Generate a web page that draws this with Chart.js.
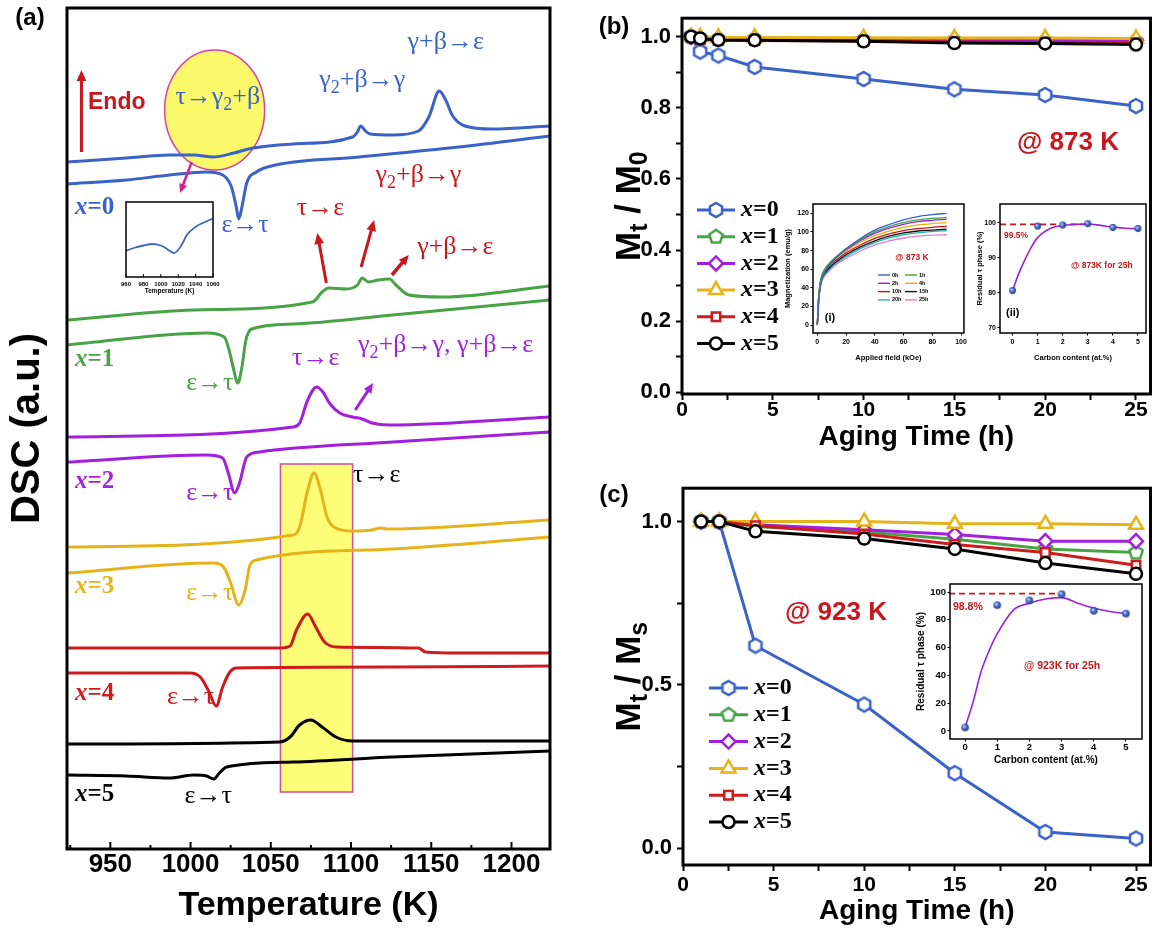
<!DOCTYPE html>
<html>
<head>
<meta charset="utf-8">
<script src="https://cdn.jsdelivr.net/npm/chart.js@4.4.1/dist/chart.umd.min.js"></script>
<style>
  body { margin: 0; background: #fff; }
  #page { position: relative; width: 1161px; height: 928px; overflow: hidden; background: #fff; }
  canvas { position: absolute; }
</style>
</head>
<body>
<div id="page">
  <canvas id="dsc" width="560" height="928" style="left:0;top:0"></canvas>
  <canvas id="dscInset" width="130" height="105" style="left:96px;top:195px"></canvas>
  <canvas id="aging873" width="601" height="460" style="left:560px;top:0"></canvas>
  <canvas id="mh" width="195" height="175" style="left:775px;top:195px"></canvas>
  <canvas id="res873" width="185" height="175" style="left:970px;top:195px"></canvas>
  <canvas id="aging923" width="601" height="458" style="left:560px;top:470px"></canvas>
  <canvas id="res923" width="250" height="200" style="left:900px;top:575px"></canvas>
</div>
<script>
// ---- (a) DSC curves, [temperature K, signal a.u.] ----
const dscX0Heat = [[923,687],[960,691],[987,694],[1002,694],[1014,692],[1027,696],[1039,701],[1064,705],[1101,712],[1104,717],[1106,723],[1109,718],[1112,715],[1126,714],[1142,718],[1148.5,732],[1155,758],[1159,749],[1163,734],[1171,723],[1188,720],[1224,723]];
const dscX0Cool = [[923,665],[960,669],[987,674],[1010,677],[1020,674],[1025.5,662],[1028.5,642],[1030,630],[1032,642],[1035,666],[1041,677],[1053,684],[1105,692],[1167,702],[1224,713]];
const dscX1Heat = [[923,529],[1002,539],[1076,547],[1082,557],[1086,561],[1097,560],[1104,564],[1107,571],[1111,567],[1117,569],[1124,570],[1128,564],[1136,554],[1157,552],[1224,563]];
const dscX1Cool = [[923,504],[1010,516],[1021,512],[1024,499],[1026.5,482],[1029.5,466],[1032,482],[1034.5,509],[1038,520],[1064,525],[1126,534],[1224,549]];
const dscX2Heat = [[923,412],[1064,422],[1068,426],[1073,449],[1078.5,462],[1082.5,457],[1086.5,446],[1093,436],[1101,432],[1107,430],[1113,426],[1124,424],[1224,432]];
const dscX2Cool = [[923,387],[1010,394],[1020,391],[1023.5,376],[1027.5,356],[1030.5,366],[1035,392],[1043,397],[1126,407],[1224,417]];
const dscX3Heat = [[923,302],[1064,314],[1068,322],[1073,359],[1077,376],[1081,359],[1085,332],[1090.5,321],[1101,318],[1113,319],[1118.5,321],[1122.5,320],[1224,329]];
const dscX3Cool = [[923,276],[1014,286],[1021,281],[1025,266],[1030,244],[1034,259],[1037,284],[1041,289],[1126,300],[1224,312]];
const dscX4Heat = [[923,201],[1055.5,201],[1062,203],[1066,219],[1073,235],[1078,222],[1083.5,207],[1091,202],[1142,201],[1146.5,197],[1167,196],[1224,196]];
const dscX4Cool = [[923,176],[999.5,176],[1006,172],[1011,159],[1016,143],[1020,162],[1024.5,177],[1028.5,181],[1126,182],[1224,183]];
const dscX5Heat = [[923,105],[1055.5,107],[1062,112],[1068,124],[1075,129],[1082,122],[1090.5,112],[1101,108],[1224,108]];
const dscX5Cool = [[923,74],[960,73],[987,71],[1002,74],[1010,73],[1014.5,70],[1018,76],[1022.5,82],[1064,87],[1126,92],[1224,98]];

// small inset of panel (a)
const insetT = [960, 970, 980, 990, 1000, 1005, 1010, 1015, 1020, 1025, 1030, 1040, 1050, 1060];
const insetDSC = [0.35, 0.39, 0.42, 0.44, 0.42, 0.39, 0.35, 0.32, 0.36, 0.45, 0.56, 0.67, 0.73, 0.78];

// ---- (b) aging at 873 K ----
const timeB = [0.5, 1, 2, 4, 10, 15, 20, 25];
const ratioB_x0 = [1.0, 0.958, 0.947, 0.915, 0.881, 0.852, 0.836, 0.805];
const ratioB_x1 = [1.0, 0.995, 0.993, 0.993, 0.991, 0.989, 0.988, 0.987];
const ratioB_x2 = [1.0, 0.996, 0.995, 0.995, 0.993, 0.991, 0.990, 0.989];
const ratioB_x3 = [1.0, 0.999, 0.998, 0.998, 0.997, 0.996, 0.996, 0.995];
const ratioB_x4 = [1.0, 0.993, 0.990, 0.989, 0.988, 0.985, 0.984, 0.982];
const ratioB_x5 = [1.0, 0.995, 0.991, 0.990, 0.987, 0.982, 0.981, 0.978];

// (b)(i) magnetization curves
const fieldKOe = [0, 0.5, 1, 2, 3, 5, 7.5, 10, 15, 20, 30, 40, 50, 60, 70, 80, 90];
const mag0h  = [0, 12, 25, 40, 48, 56, 62, 67, 75, 82, 93, 102, 108, 113, 116.5, 118.5, 120];
const mag1h  = [0, 18, 32, 46, 53, 60, 65, 69, 76, 82, 92, 100, 106, 110, 113, 114.5, 115.5];
const mag2h  = [0, 16, 30, 44, 51, 58, 63.5, 68, 75, 81, 91, 98.5, 104, 108, 111, 112.5, 113.5];
const mag4h  = [0, 17, 31, 45, 52, 58.5, 63.5, 67.5, 74, 79.5, 89, 96, 101, 105, 107.5, 109, 110];
const mag10h = [0, 17, 31, 44, 51, 57, 62, 66, 72, 77.5, 86, 93, 98, 101.5, 103.5, 105, 106];
const mag15h = [0, 16, 30, 43, 49.5, 55.5, 60, 64, 70, 75.5, 84, 90.5, 95.5, 99, 101, 102, 103];
const mag20h = [0, 14, 28, 41, 48, 54, 58.5, 62.5, 68.5, 73.5, 82, 88.5, 93.5, 97, 99, 100.5, 101.5];
const mag25h = [0, 13, 27, 40, 46.5, 52.5, 57, 61, 67, 71.5, 79.5, 86, 90.5, 93.5, 95.5, 96.5, 97];
const magLabels = ['0h', '1h', '2h', '4h', '10h', '15h', '20h', '25h'];

// residual tau phase vs carbon content
const carbon = [0, 1, 2, 3, 4, 5];
const resid873 = [80.6, 99.0, 99.3, 99.7, 98.6, 98.3];
const resid923 = [2.5, 90.5, 94.0, 98.5, 86.5, 84.5];
const fitCarbon = [0, 0.25, 0.5, 0.75, 1, 1.5, 2, 2.5, 3, 3.5, 4, 4.5, 5];
const fit873 = [80.6, 85.5, 89.5, 93, 95.7, 98.3, 99.2, 99.5, 99.6, 99.2, 98.7, 98.4, 98.2];
const fit923 = [2.5, 21, 43, 58, 70, 87, 92, 95, 96, 92, 88.5, 86, 84.5];
const level873 = 99.5;
const level923 = 98.8;
const levelCarbon = [-0.5, 3];

// ---- (c) aging at 923 K ----
const timeC = [1, 2, 4, 10, 15, 20, 25];
const ratioC_x0 = [1.0, 1.0, 0.62, 0.44, 0.23, 0.05, 0.03];
const ratioC_x1 = [1.0, 1.0, 0.985, 0.968, 0.946, 0.916, 0.905];
const ratioC_x2 = [1.0, 1.0, 0.99, 0.975, 0.96, 0.94, 0.94];
const ratioC_x3 = [1.0, 1.0, 1.0, 1.0, 0.993, 0.993, 0.99];
const ratioC_x4 = [1.0, 1.0, 0.987, 0.962, 0.93, 0.905, 0.866];
const ratioC_x5 = [1.0, 1.0, 0.97, 0.948, 0.916, 0.873, 0.84];

const seriesNames = ['x=0', 'x=1', 'x=2', 'x=3', 'x=4', 'x=5'];

// ---- styles ----
const COL = ['#3b62c8', '#47a345', '#a21fdc', '#e6b31a', '#cd1b1e', '#000000'];
const MAG_COL = ['#3b62c8', '#3fa343', '#9a22e0', '#e8b000', '#c81414', '#111111', '#22b3b0', '#e27ad6'];
const RED = '#c8171d';
const SANS = 'Arial, "Liberation Sans", sans-serif';
const SERIF = '"Liberation Serif", "Times New Roman", serif';

Chart.defaults.font.family = SANS;
Chart.defaults.color = '#000';
Chart.defaults.animation = false;
Chart.defaults.plugins.legend.display = false;
Chart.defaults.plugins.tooltip.enabled = false;

// text with _x subscript and ~x italic markers
function richText(ctx, str, x, y, o) {
  const size = o.size, fam = o.family || SANS;
  const segs = [];
  for (let i = 0; i < str.length; i++) {
    let c = str[i], kind = 'n';
    if ((c === '_' || c === '~') && i + 1 < str.length) { kind = c === '_' ? 's' : 'i'; c = str[++i]; }
    const last = segs[segs.length - 1];
    if (last && last.kind === kind && kind === 'n') last.t += c; else segs.push({ t: c, kind });
  }
  const fontFor = k => `${k === 'i' || o.italic ? 'italic ' : ''}${o.weight || 'normal'} ${k === 's' ? Math.round(size * 0.7) : size}px ${fam}`;
  let w = 0;
  segs.forEach(s => { ctx.font = fontFor(s.kind); s.w = ctx.measureText(s.t).width; w += s.w; });
  ctx.save();
  ctx.translate(x, y);
  if (o.rot) ctx.rotate(o.rot);
  ctx.fillStyle = o.color || '#000';
  ctx.textBaseline = 'middle';
  ctx.textAlign = 'left';
  let cx = o.align === 'left' ? 0 : o.align === 'right' ? -w : -w / 2;
  segs.forEach(s => { ctx.font = fontFor(s.kind); ctx.fillText(s.t, cx, s.kind === 's' ? size * 0.3 : 0); cx += s.w; });
  ctx.restore();
}

function arrow(ctx, x0, y0, x1, y1, color, lw, head) {
  const a = Math.atan2(y1 - y0, x1 - x0);
  ctx.strokeStyle = color; ctx.fillStyle = color; ctx.lineWidth = lw;
  ctx.beginPath(); ctx.moveTo(x0, y0);
  ctx.lineTo(x1 - head * 0.7 * Math.cos(a), y1 - head * 0.7 * Math.sin(a)); ctx.stroke();
  ctx.beginPath(); ctx.moveTo(x1, y1);
  ctx.lineTo(x1 - head * Math.cos(a - 0.42), y1 - head * Math.sin(a - 0.42));
  ctx.lineTo(x1 - head * Math.cos(a + 0.42), y1 - head * Math.sin(a + 0.42));
  ctx.closePath(); ctx.fill();
}

function frame(lw) {
  return { id: 'frame', afterDatasetsDraw(chart) {
    const { ctx, chartArea: a } = chart;
    ctx.save(); ctx.strokeStyle = '#000'; ctx.lineWidth = lw;
    ctx.strokeRect(a.left, a.top, a.right - a.left, a.bottom - a.top);
    ctx.restore();
  } };
}

function layer(id, draw, hook) {
  return { id, [hook || 'afterDraw'](chart) { const ctx = chart.ctx; ctx.save(); draw(chart, ctx); ctx.restore(); } };
}

function polyMarker(n, r, color) {
  const s = Math.ceil(2 * r + 6);
  const c = document.createElement('canvas'); c.width = s; c.height = s;
  const g = c.getContext('2d');
  g.beginPath();
  for (let k = 0; k < n; k++) {
    const a = -Math.PI / 2 + k * 2 * Math.PI / n;
    const px = s / 2 + r * Math.cos(a), py = s / 2 + r * Math.sin(a);
    if (k) g.lineTo(px, py); else g.moveTo(px, py);
  }
  g.closePath(); g.fillStyle = '#fff'; g.fill();
  g.lineWidth = 2.5; g.strokeStyle = color; g.stroke();
  return c;
}

function sphere(r) {
  const s = Math.ceil(2 * r + 2);
  const c = document.createElement('canvas'); c.width = s; c.height = s;
  const g = c.getContext('2d');
  const grd = g.createRadialGradient(s / 2 - r * 0.35, s / 2 - r * 0.35, r * 0.1, s / 2, s / 2, r);
  grd.addColorStop(0, '#c4d3f7'); grd.addColorStop(0.45, '#4e73d3'); grd.addColorStop(1, '#1d3a8c');
  g.beginPath(); g.arc(s / 2, s / 2, r, 0, Math.PI * 2); g.fillStyle = grd; g.fill();
  return c;
}

const MARK = [polyMarker(6, 7, COL[0]), polyMarker(5, 7, COL[1]), 'rectRot', 'triangle', 'rect', 'circle'];
const MARK_R = [7, 7, 7, 8, 6, 6];

// ================= (a) DSC =================
const dscCurves = [
  [dscX0Heat, 0], [dscX0Cool, 0], [dscX1Heat, 1], [dscX1Cool, 1], [dscX2Heat, 2], [dscX2Cool, 2],
  [dscX3Heat, 3], [dscX3Cool, 3], [dscX4Heat, 4], [dscX4Cool, 4], [dscX5Heat, 5], [dscX5Cool, 5]
];
// notes in data coordinates: text, T, signal, colour
const dscNotes = [
  ['γ+β→ε', 1159, 807, COL[0]], ['γ_2+β→γ', 1107, 769, COL[0]], ['τ→γ_2+β', 1017, 752, COL[0]],
  ['ε→τ', 1034, 624, COL[0]], ['γ_2+β→γ', 1142, 674, RED], ['τ→ε', 1081, 641, RED], ['γ+β→ε', 1165, 602, RED],
  ['ε→τ', 1012, 466, COL[1]], ['τ→ε', 1078, 491, COL[2]], ['γ_2+β→γ, γ+β→ε', 1159, 504, COL[2]],
  ['ε→τ', 1012, 356, COL[2]], ['τ→ε', 1116, 374, '#000'], ['ε→τ', 1012, 256, COL[3]],
  ['ε→τ', 1000, 152, COL[4]], ['ε→τ', 1011, 53, '#000']
];
const dscSampleLabels = [[641, 0], [489, 1], [367, 2], [262, 3], [155, 4], [54, 5]];
const dscArrows = [
  [932, 697, 932, 779, RED, 3, 12], [1000.7, 687, 993.4, 656, '#d6238f', 2.5, 10],
  [1084.6, 566, 1079, 616, RED, 3, 12], [1106.3, 582, 1114.4, 629, RED, 3, 12],
  [1125.5, 574, 1136, 594, RED, 3.5, 11], [1102.6, 439, 1113.8, 466, COL[2], 3, 11]
];

const dscBack = layer('dscBack', (chart, ctx) => {
  const x = chart.scales.x, y = chart.scales.y;
  // highlighted tau->epsilon window
  const bx0 = x.getPixelForValue(1056), bx1 = x.getPixelForValue(1101);
  const by0 = y.getPixelForValue(385), by1 = y.getPixelForValue(57);
  ctx.fillStyle = '#fdfd78';
  ctx.fillRect(bx0, by0, bx1 - bx0, by1 - by0);
  ctx.strokeStyle = '#d24f9e'; ctx.lineWidth = 1.5;
  ctx.strokeRect(bx0, by0, bx1 - bx0, by1 - by0);
  // ellipse marking tau -> gamma2 + beta
  ctx.beginPath();
  ctx.ellipse(x.getPixelForValue(1015), y.getPixelForValue(739), 50, 60, 0, 0, Math.PI * 2);
  ctx.fillStyle = '#fbf86a'; ctx.fill();
  ctx.strokeStyle = '#d93fa6'; ctx.lineWidth = 1.5; ctx.stroke();
}, 'beforeDatasetsDraw');

const dscFront = layer('dscFront', (chart, ctx) => {
  const x = chart.scales.x, y = chart.scales.y, a = chart.chartArea;
  // inward ticks on the temperature axis
  ctx.strokeStyle = '#000'; ctx.lineWidth = 2;
  x.ticks.forEach(t => {
    const px = x.getPixelForValue(t.value);
    const len = t.value % 50 === 0 ? 7 : 4;
    ctx.beginPath(); ctx.moveTo(px, a.bottom); ctx.lineTo(px, a.bottom - len); ctx.stroke();
  });
  dscArrows.forEach(r => arrow(ctx, x.getPixelForValue(r[0]), y.getPixelForValue(r[1]),
    x.getPixelForValue(r[2]), y.getPixelForValue(r[3]), r[4], r[5], r[6]));
  dscNotes.forEach(n => richText(ctx, n[0], x.getPixelForValue(n[1]), y.getPixelForValue(n[2]),
    { size: 26, family: SERIF, color: n[3] }));
  dscSampleLabels.forEach(s => richText(ctx, '~x=' + s[1], 75, y.getPixelForValue(s[0]),
    { size: 25, family: SERIF, weight: 'bold', color: COL[s[1]], align: 'left' }));
  richText(ctx, 'Endo', 88, y.getPixelForValue(746), { size: 23, weight: 'bold', color: RED, align: 'left' });
  richText(ctx, '(a)', 30, 18, { size: 24, weight: 'bold' });
});

new Chart(document.getElementById('dsc'), {
  type: 'line',
  data: { datasets: dscCurves.map(([pts, k]) => ({
    data: pts.map(p => ({ x: p[0], y: p[1] })),
    borderColor: COL[k], borderWidth: 3, pointRadius: 0, cubicInterpolationMode: 'monotone'
  })) },
  options: {
    responsive: false,
    layout: { padding: { left: 0, right: 10, top: 8, bottom: 0 } },
    scales: {
      x: { type: 'linear', min: 923, max: 1224, afterFit: s => { s.height = 79; },
        ticks: { stepSize: 25, autoSkip: false, includeBounds: false, maxRotation: 0, minRotation: 0,
          callback: v => (v % 50 === 0 ? String(v) : ''),
          font: { size: 26, weight: 'bold', lineHeight: 1 }, padding: 3, color: '#000' },
        grid: { display: false, drawTicks: false }, border: { display: false },
        title: { display: true, text: 'Temperature (K)', font: { size: 34, weight: 'bold' }, color: '#000', padding: { top: 0, bottom: 2 } } },
      y: { min: 0, max: 841, afterFit: s => { s.width = 67; },
        ticks: { display: false }, grid: { display: false, drawTicks: false }, border: { display: false },
        title: { display: true, text: 'DSC (a.u.)', font: { size: 40, weight: 'bold' }, color: '#000', padding: { top: 4, bottom: 0 } } }
    }
  },
  plugins: [dscBack, frame(3), dscFront]
});

new Chart(document.getElementById('dscInset'), {
  type: 'line',
  data: { datasets: [{ data: insetT.map((t, i) => ({ x: t, y: insetDSC[i] })),
    borderColor: COL[0], borderWidth: 1.8, pointRadius: 0, cubicInterpolationMode: 'monotone' }] },
  options: {
    responsive: false,
    layout: { padding: { left: 30, right: 13, top: 7, bottom: 0 } },
    scales: {
      x: { type: 'linear', min: 960, max: 1060, afterFit: s => { s.height = 23; },
        ticks: { stepSize: 20, autoSkip: false, maxRotation: 0, minRotation: 0, callback: v => String(v),
          font: { size: 6, weight: 'bold', lineHeight: 1 }, padding: 4 },
        grid: { display: false, drawTicks: false }, border: { display: false },
        title: { display: true, text: 'Temperature (K)', font: { size: 6.5, weight: 'bold' }, padding: { top: 0, bottom: 5 } } },
      y: { display: false, min: 0, max: 1 }
    }
  },
  plugins: [frame(1.5), layer('insetTicks', (chart, ctx) => {
    const x = chart.scales.x, a = chart.chartArea;
    ctx.strokeStyle = '#000'; ctx.lineWidth = 1;
    x.ticks.forEach(t => { const px = x.getPixelForValue(t.value);
      ctx.beginPath(); ctx.moveTo(px, a.bottom); ctx.lineTo(px, a.bottom - 3); ctx.stroke(); });
  })]
});

// ================= (b), (c) aging charts =================
function agingChart(id, times, series, cfg) {
  const datasets = series.map((vals, i) => ({
    label: seriesNames[i],
    data: vals.map((v, k) => ({ x: times[k], y: v })),
    borderColor: COL[i], borderWidth: 3,
    pointStyle: MARK[i], pointRadius: MARK_R[i], pointBorderWidth: 2.5,
    pointBackgroundColor: '#fff', pointBorderColor: COL[i],
    order: 5 - i
  }));
  const legend = layer('legend', (chart, ctx) => {
    const [lx0, lx1, tx] = cfg.legendX;
    datasets.forEach((d, i) => {
      const ly = cfg.legendY0 + i * cfg.legendDY;
      ctx.strokeStyle = d.borderColor; ctx.lineWidth = 3;
      ctx.beginPath(); ctx.moveTo(lx0, ly); ctx.lineTo(lx1, ly); ctx.stroke();
      ctx.fillStyle = '#fff'; ctx.strokeStyle = d.borderColor; ctx.lineWidth = 2.5;
      Chart.helpers.drawPoint(ctx, { pointStyle: d.pointStyle, radius: d.pointRadius, borderWidth: 2.5, rotation: 0 }, (lx0 + lx1) / 2, ly);
      richText(ctx, '~' + d.label, tx, ly, { size: 24, family: SERIF, weight: 'bold', align: 'left' });
    });
    richText(ctx, cfg.yTitle, cfg.yTitleX, (chart.chartArea.top + chart.chartArea.bottom) / 2,
      { size: 35, weight: 'bold', rot: -Math.PI / 2 });
    richText(ctx, cfg.panel, 54, cfg.panelY, { size: 24, weight: 'bold' });
    richText(ctx, cfg.temp[0], cfg.temp[1], cfg.temp[2], { size: 26, weight: 'bold', color: RED });
  });
  return new Chart(document.getElementById(id), {
    type: 'line',
    data: { datasets },
    options: {
      responsive: false,
      layout: { padding: { left: 0, right: 4, top: cfg.top, bottom: 0 } },
      scales: {
        x: { type: 'linear', min: 0, max: 25.8, afterFit: s => { s.height = cfg.xh; },
          ticks: { stepSize: 2.5, autoSkip: false, includeBounds: false, maxRotation: 0, minRotation: 0,
            callback: v => (v % 5 === 0 ? String(v) : ''),
            font: { size: 21, weight: 'bold', lineHeight: 1 }, padding: cfg.xpad, color: '#000' },
          grid: { drawOnChartArea: false, tickLength: 6, tickWidth: 2, tickColor: '#000' }, border: { display: false },
          title: { display: true, text: 'Aging Time (h)', font: { size: 28, weight: 'bold' }, color: '#000', padding: { top: 0, bottom: cfg.titlePad } } },
        y: { min: cfg.ymin, max: cfg.ymax, afterFit: s => { s.width = cfg.yw; },
          ticks: { stepSize: cfg.ystep, autoSkip: false, includeBounds: false, callback: cfg.ylabel,
            font: { size: 22, weight: 'bold' }, padding: 5, color: '#000' },
          grid: { drawOnChartArea: false, tickLength: 6, tickWidth: 2, tickColor: '#000' }, border: { display: false } }
      }
    },
    plugins: [frame(3), legend]
  });
}

agingChart('aging873', timeB, [ratioB_x0, ratioB_x1, ratioB_x2, ratioB_x3, ratioB_x4, ratioB_x5], {
  top: 8, xh: 66, xpad: 0, titlePad: 6, yw: 122, ymin: -0.005, ymax: 1.052, ystep: 0.1,
  ylabel: v => (Math.round(v * 10) % 2 === 0 ? v.toFixed(1) : ''),
  legendX: [137, 175, 181], legendY0: 210, legendDY: 26.7,
  yTitle: 'M_t / M_0', yTitleX: 70, panel: '(b)', panelY: 27, temp: ['@ 873 K', 508, 143]
});

agingChart('aging923', timeC, [ratioC_x0, ratioC_x1, ratioC_x2, ratioC_x3, ratioC_x4, ratioC_x5], {
  top: 13, xh: 63, xpad: 4, titlePad: 0, yw: 123, ymin: -0.051, ymax: 1.102, ystep: 0.25,
  ylabel: v => (Math.abs(v * 2 - Math.round(v * 2)) < 1e-6 ? v.toFixed(1) : ''),
  legendX: [149, 188, 194], legendY0: 218, legendDY: 26.8,
  yTitle: 'M_t / M_s', yTitleX: 70, panel: '(c)', panelY: 25, temp: ['@ 923 K', 276, 143]
});

// ================= insets =================
function insetAxes(o) {
  return {
    x: { type: 'linear', min: o.xmin, max: o.xmax, afterFit: s => { s.height = o.xh; },
      ticks: { stepSize: o.xstep, autoSkip: false, includeBounds: false, maxRotation: 0, minRotation: 0,
        callback: v => String(v), font: { size: o.fs, weight: 'bold', lineHeight: 1 }, padding: o.xpad, color: '#000' },
      grid: { drawOnChartArea: false, tickLength: 2.5, tickWidth: 1, tickColor: '#000' }, border: { display: false },
      title: { display: true, text: o.xtitle, font: { size: o.ts, weight: 'bold' }, color: '#000', padding: { top: 0, bottom: o.xtpad } } },
    y: { min: o.ymin, max: o.ymax, afterFit: s => { s.width = o.yw; },
      ticks: { stepSize: o.ystep, autoSkip: false, includeBounds: false, callback: v => String(v),
        font: { size: o.fs, weight: 'bold' }, padding: 1.5, color: '#000' },
      grid: { drawOnChartArea: false, tickLength: 2.5, tickWidth: 1, tickColor: '#000' }, border: { display: false },
      title: { display: true, text: o.ytitle, font: { size: o.ts, weight: 'bold' }, color: '#000', padding: { top: o.ytpad, bottom: 0 } } }
  };
}

const magSeries = [mag0h, mag1h, mag2h, mag4h, mag10h, mag15h, mag20h, mag25h];
new Chart(document.getElementById('mh'), {
  type: 'line',
  data: { datasets: magSeries.map((m, i) => ({
    data: m.map((v, k) => ({ x: fieldKOe[k], y: v })), borderColor: MAG_COL[i], borderWidth: 1.3,
    pointRadius: 0, cubicInterpolationMode: 'monotone'
  })) },
  options: {
    responsive: false,
    layout: { padding: { left: 0, right: 5, top: 9, bottom: 0 } },
    scales: insetAxes({ xmin: -3, xmax: 102, xstep: 20, xh: 37, xpad: 3, xtpad: 8, xtitle: 'Applied field (kOe)',
      ymin: -8.5, ymax: 130, ystep: 20, yw: 38, ytpad: 8, ytitle: 'Magnetization (emu/g)', fs: 7, ts: 7.5 })
  },
  plugins: [frame(1.5), layer('mhNotes', (chart, ctx) => {
    magLabels.forEach((lab, i) => {
      const col = i % 2, row = Math.floor(i / 2);
      const x0 = col ? 130 : 103, y0 = 80 + row * 8.3;
      ctx.strokeStyle = MAG_COL[i]; ctx.lineWidth = 1.4;
      ctx.beginPath(); ctx.moveTo(x0, y0); ctx.lineTo(x0 + 12, y0); ctx.stroke();
      richText(ctx, lab, x0 + 14, y0, { size: 5.5, weight: 'bold', align: 'left' });
    });
    richText(ctx, '@ 873 K', 137, 63, { size: 8.5, weight: 'bold', color: RED });
    richText(ctx, '(i)', 55, 123, { size: 11, weight: 'bold' });
  })]
});

function residChart(id, vals, fit, level, axes, notes, r) {
  return new Chart(document.getElementById(id), {
    type: 'line',
    data: { datasets: [
      { data: carbon.map((c, i) => ({ x: c, y: vals[i] })), showLine: false, pointStyle: sphere(r), pointRadius: r },
      { data: fitCarbon.map((c, i) => ({ x: c, y: fit[i] })), borderColor: '#9b22d6', borderWidth: 1.6, pointRadius: 0, cubicInterpolationMode: 'monotone' },
      { data: levelCarbon.map(c => ({ x: c, y: level })), borderColor: '#c8171d', borderWidth: 1.8, borderDash: [6, 4], pointRadius: 0 }
    ] },
    options: { responsive: false, layout: { padding: axes.pad }, scales: insetAxes(axes) },
    plugins: [frame(1.5), layer('notes', (chart, ctx) => {
      notes.forEach(n => richText(ctx, n[0], n[1], n[2], { size: n[3], weight: 'bold', color: n[4], align: 'left' }));
    })]
  });
}

residChart('res873', resid873, fit873, level873,
  { pad: { left: 0, right: 9, top: 9, bottom: 0 }, xmin: -0.5, xmax: 5.32, xstep: 1, xh: 37, xpad: 3, xtpad: 8,
    xtitle: 'Carbon content (at.%)', ymin: 68.5, ymax: 105.3, ystep: 10, yw: 30, ytpad: 5,
    ytitle: 'Residual τ phase (%)', fs: 7, ts: 7.5 },
  [['99.5%', 34, 41, 8.5, RED], ['@ 873K for 25h', 101, 71, 8.5, RED], ['(ii)', 36, 118, 11, '#000']], 3.4);

residChart('res923', resid923, fit923, level923,
  { pad: { left: 0, right: 8, top: 9, bottom: 0 }, xmin: -0.47, xmax: 5.5, xstep: 1, xh: 36, xpad: 1, xtpad: 9,
    xtitle: 'Carbon content (at.%)', ymin: -5.8, ymax: 105.8, ystep: 20, yw: 50, ytpad: 15,
    ytitle: 'Residual τ phase (%)', fs: 9.5, ts: 10 },
  [['98.8%', 53, 32, 10.5, RED], ['@ 923K for 25h', 124, 91, 10.5, RED]], 3.8);
</script>
</body>
</html>
